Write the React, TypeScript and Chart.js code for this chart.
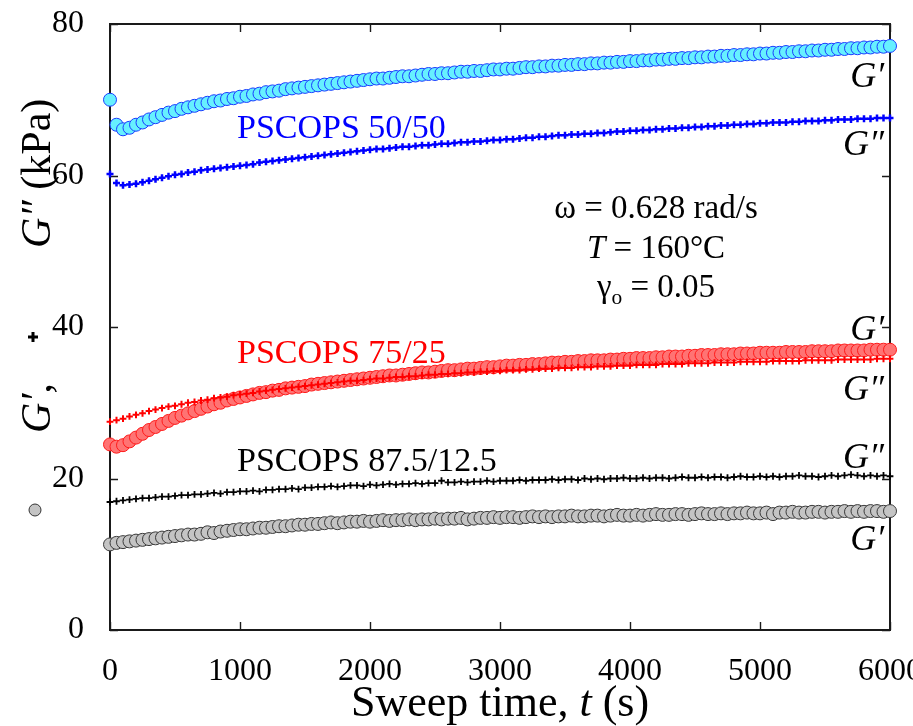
import React, { useEffect, useRef } from 'react';
import { Chart, registerables } from 'chart.js';

Chart.register(...registerables);

// Sweep time (s)
const TIME_S = [
  0, 50, 100, 150, 200, 250, 300, 350, 400, 450,
  500, 550, 600, 650, 700, 750, 800, 850, 900, 950,
  1000, 1050, 1100, 1150, 1200, 1250, 1300, 1350, 1400, 1450,
  1500, 1550, 1600, 1650, 1700, 1750, 1800, 1850, 1900, 1950,
  2000, 2050, 2100, 2150, 2200, 2250, 2300, 2350, 2400, 2450,
  2500, 2550, 2600, 2650, 2700, 2750, 2800, 2850, 2900, 2950,
  3000, 3050, 3100, 3150, 3200, 3250, 3300, 3350, 3400, 3450,
  3500, 3550, 3600, 3650, 3700, 3750, 3800, 3850, 3900, 3950,
  4000, 4050, 4100, 4150, 4200, 4250, 4300, 4350, 4400, 4450,
  4500, 4550, 4600, 4650, 4700, 4750, 4800, 4850, 4900, 4950,
  5000, 5050, 5100, 5150, 5200, 5250, 5300, 5350, 5400, 5450,
  5500, 5550, 5600, 5650, 5700, 5750, 5800, 5850, 5900, 5950,
  6000,
];

// PSCOPS 50/50  G' (kPa)
const PS5050_GP = [
  70.0, 66.7, 66.1, 66.3, 66.7, 67.0, 67.4, 67.7, 68.0, 68.3,
  68.5, 68.8, 69.0, 69.2, 69.4, 69.6, 69.8, 69.9, 70.1, 70.2,
  70.4, 70.5, 70.7, 70.8, 71.0, 71.1, 71.2, 71.4, 71.5, 71.6,
  71.7, 71.8, 71.9, 72.0, 72.1, 72.2, 72.3, 72.4, 72.5, 72.6,
  72.7, 72.8, 72.8, 72.9, 73.0, 73.1, 73.1, 73.2, 73.3, 73.4,
  73.4, 73.5, 73.5, 73.6, 73.7, 73.7, 73.8, 73.8, 73.9, 74.0,
  74.0, 74.1, 74.1, 74.2, 74.3, 74.3, 74.4, 74.4, 74.5, 74.5,
  74.6, 74.6, 74.7, 74.7, 74.8, 74.8, 74.9, 74.9, 75.0, 75.0,
  75.1, 75.1, 75.2, 75.2, 75.3, 75.3, 75.4, 75.4, 75.5, 75.5,
  75.6, 75.6, 75.7, 75.7, 75.8, 75.8, 75.9, 75.9, 76.0, 76.0,
  76.1, 76.1, 76.2, 76.2, 76.3, 76.3, 76.4, 76.4, 76.5, 76.5,
  76.6, 76.6, 76.7, 76.7, 76.8, 76.8, 76.9, 76.9, 77.0, 77.0,
  77.1,
];

// PSCOPS 50/50  G'' (kPa)
const PS5050_GPP = [
  60.2, 59.0, 58.7, 58.8, 58.9, 59.1, 59.3, 59.5, 59.7, 59.9,
  60.1, 60.2, 60.4, 60.5, 60.7, 60.8, 60.9, 61.0, 61.1, 61.2,
  61.3, 61.4, 61.5, 61.7, 61.8, 61.9, 62.0, 62.1, 62.2, 62.3,
  62.4, 62.5, 62.6, 62.7, 62.8, 62.9, 63.0, 63.1, 63.2, 63.3,
  63.4, 63.5, 63.5, 63.6, 63.7, 63.8, 63.8, 63.9, 64.0, 64.0,
  64.1, 64.2, 64.2, 64.3, 64.4, 64.4, 64.5, 64.5, 64.6, 64.7,
  64.7, 64.8, 64.8, 64.9, 65.0, 65.0, 65.1, 65.1, 65.2, 65.3,
  65.3, 65.4, 65.4, 65.5, 65.5, 65.6, 65.6, 65.7, 65.8, 65.8,
  65.9, 65.9, 66.0, 66.0, 66.1, 66.1, 66.2, 66.2, 66.3, 66.3,
  66.4, 66.4, 66.5, 66.5, 66.6, 66.6, 66.7, 66.7, 66.8, 66.8,
  66.9, 66.9, 67.0, 67.0, 67.0, 67.1, 67.1, 67.2, 67.2, 67.2,
  67.3, 67.3, 67.4, 67.4, 67.4, 67.5, 67.5, 67.5, 67.6, 67.6,
  67.6,
];

// PSCOPS 75/25  G' (kPa)
const PS7525_GP = [
  24.5, 24.2, 24.4, 24.9, 25.4, 25.9, 26.4, 26.8, 27.2, 27.6,
  28.0, 28.3, 28.6, 28.9, 29.2, 29.5, 29.8, 30.0, 30.3, 30.5,
  30.7, 30.9, 31.1, 31.3, 31.4, 31.6, 31.7, 31.9, 32.0, 32.1,
  32.2, 32.4, 32.5, 32.6, 32.7, 32.8, 32.9, 33.0, 33.1, 33.2,
  33.3, 33.4, 33.5, 33.6, 33.6, 33.7, 33.8, 33.9, 34.0, 34.0,
  34.1, 34.2, 34.3, 34.3, 34.4, 34.5, 34.5, 34.6, 34.7, 34.7,
  34.8, 34.9, 34.9, 35.0, 35.0, 35.1, 35.1, 35.2, 35.3, 35.3,
  35.4, 35.4, 35.5, 35.5, 35.6, 35.6, 35.6, 35.7, 35.7, 35.8,
  35.8, 35.9, 35.9, 35.9, 36.0, 36.0, 36.1, 36.1, 36.1, 36.2,
  36.2, 36.3, 36.3, 36.3, 36.4, 36.4, 36.4, 36.5, 36.5, 36.5,
  36.6, 36.6, 36.6, 36.6, 36.7, 36.7, 36.7, 36.7, 36.8, 36.8,
  36.8, 36.8, 36.9, 36.9, 36.9, 36.9, 36.9, 37.0, 37.0, 37.0,
  37.0,
];

// PSCOPS 75/25  G'' (kPa)
const PS7525_GPP = [
  27.5, 27.7, 27.9, 28.2, 28.4, 28.6, 28.9, 29.1, 29.3, 29.5,
  29.6, 29.8, 30.0, 30.1, 30.3, 30.4, 30.6, 30.7, 30.8, 31.0,
  31.1, 31.2, 31.3, 31.5, 31.6, 31.7, 31.8, 31.9, 32.0, 32.1,
  32.2, 32.3, 32.4, 32.5, 32.6, 32.7, 32.8, 32.9, 32.9, 33.0,
  33.1, 33.2, 33.2, 33.3, 33.4, 33.4, 33.5, 33.5, 33.6, 33.7,
  33.7, 33.8, 33.8, 33.9, 33.9, 34.0, 34.0, 34.1, 34.1, 34.2,
  34.2, 34.3, 34.3, 34.3, 34.4, 34.4, 34.5, 34.5, 34.5, 34.6,
  34.6, 34.6, 34.7, 34.7, 34.7, 34.8, 34.8, 34.8, 34.9, 34.9,
  34.9, 35.0, 35.0, 35.0, 35.0, 35.1, 35.1, 35.1, 35.1, 35.2,
  35.2, 35.2, 35.2, 35.3, 35.3, 35.3, 35.3, 35.4, 35.4, 35.4,
  35.4, 35.4, 35.5, 35.5, 35.5, 35.5, 35.5, 35.6, 35.6, 35.6,
  35.6, 35.6, 35.7, 35.7, 35.7, 35.7, 35.7, 35.7, 35.8, 35.8,
  35.8,
];

// PSCOPS 87.5/12.5  G'' (kPa)
const PS875_GPP = [
  16.9, 17.0, 17.1, 17.2, 17.3, 17.4, 17.4, 17.5, 17.6, 17.6,
  17.7, 17.8, 17.8, 17.9, 17.9, 18.0, 18.1, 18.0, 18.2, 18.2,
  18.3, 18.3, 18.4, 18.3, 18.5, 18.5, 18.6, 18.6, 18.7, 18.6,
  18.8, 18.8, 18.9, 18.9, 19.0, 18.9, 19.0, 19.1, 19.1, 19.0,
  19.2, 19.1, 19.2, 19.3, 19.2, 19.3, 19.3, 19.4, 19.3, 19.4,
  19.4, 19.7, 19.5, 19.5, 19.6, 19.5, 19.6, 19.6, 19.7, 19.6,
  19.7, 19.7, 19.7, 19.8, 19.7, 19.8, 19.8, 19.8, 19.9, 19.8,
  19.9, 19.9, 19.8, 20.0, 19.9, 20.0, 19.9, 20.0, 20.0, 20.1,
  20.0, 20.0, 20.1, 20.0, 20.1, 20.1, 20.0, 20.1, 20.2, 20.1,
  20.1, 20.2, 20.1, 20.2, 20.2, 20.1, 20.2, 20.3, 20.2, 20.2,
  20.3, 20.2, 20.3, 20.2, 20.3, 20.3, 20.4, 20.3, 20.3, 20.2,
  20.3, 20.4, 20.3, 20.4, 20.5, 20.4, 20.3, 20.4, 20.3, 20.4,
  20.3,
];

// PSCOPS 87.5/12.5  G' (kPa)
const PS875_GP = [
  11.3, 11.5, 11.6, 11.7, 11.8, 11.9, 12.0, 12.1, 12.2, 12.3,
  12.4, 12.5, 12.6, 12.6, 12.7, 12.9, 12.8, 13.0, 13.1, 13.2,
  13.3, 13.3, 13.4, 13.5, 13.5, 13.6, 13.7, 13.7, 13.8, 13.9,
  13.9, 14.0, 14.0, 14.1, 14.2, 14.1, 14.2, 14.3, 14.3, 14.4,
  14.3, 14.4, 14.5, 14.4, 14.5, 14.5, 14.6, 14.5, 14.6, 14.6,
  14.7, 14.6, 14.7, 14.7, 14.8, 14.6, 14.7, 14.8, 14.8, 14.9,
  14.8, 14.9, 14.9, 14.8, 14.9, 15.0, 14.9, 15.0, 14.9, 15.0,
  15.0, 15.1, 15.0, 15.0, 15.1, 15.1, 15.0, 15.1, 15.2, 15.1,
  15.1, 15.2, 15.1, 15.2, 15.3, 15.2, 15.2, 15.3, 15.3, 15.2,
  15.3, 15.4, 15.3, 15.3, 15.4, 15.3, 15.4, 15.4, 15.5, 15.4,
  15.4, 15.5, 15.3, 15.5, 15.5, 15.6, 15.5, 15.5, 15.6, 15.6,
  15.5, 15.6, 15.6, 15.7, 15.6, 15.7, 15.6, 15.7, 15.7, 15.6,
  15.7,
];

const X_TICKS = [0, 1000, 2000, 3000, 4000, 5000, 6000];
const Y_TICKS = [0, 20, 40, 60, 80];

const SERIF = '"Liberation Serif", "Times New Roman", "DejaVu Serif", serif';

type Run = { t: string; italic?: boolean; sub?: boolean };

function runsWidth(ctx: CanvasRenderingContext2D, runs: Run[], size: number) {
  let w = 0;
  for (const r of runs) {
    const s = r.sub ? size * 0.65 : size;
    ctx.font = `${r.italic ? 'italic ' : ''}${s}px ${SERIF}`;
    w += ctx.measureText(r.t).width;
  }
  return w;
}

function drawRuns(
  ctx: CanvasRenderingContext2D,
  runs: Run[],
  x: number,
  y: number,
  size: number,
  align: 'left' | 'center' | 'right' = 'left'
) {
  const total = runsWidth(ctx, runs, size);
  let cx = align === 'left' ? x : align === 'center' ? x - total / 2 : x - total;
  ctx.textAlign = 'left';
  ctx.textBaseline = 'alphabetic';
  for (const r of runs) {
    const s = r.sub ? size * 0.65 : size;
    ctx.font = `${r.italic ? 'italic ' : ''}${s}px ${SERIF}`;
    ctx.fillText(r.t, cx, r.sub ? y + size * 0.22 : y);
    cx += ctx.measureText(r.t).width;
  }
}

const decorPlugin = {
  id: 'decor',
  beforeDatasetsDraw(chart: any) {
    const { ctx, chartArea, scales } = chart;
    const { left, right, top, bottom } = chartArea;
    const x = scales.x;
    const y = scales.y;
    ctx.save();
    ctx.strokeStyle = '#1a1a1a';
    ctx.lineWidth = 2;
    ctx.strokeRect(left, top, right - left, bottom - top);
    ctx.lineWidth = 1.4;
    ctx.beginPath();
    const tl = 8;
    for (const v of X_TICKS) {
      const px = Math.round(x.getPixelForValue(v)) + 0.5;
      ctx.moveTo(px, bottom);
      ctx.lineTo(px, bottom - tl);
      ctx.moveTo(px, top);
      ctx.lineTo(px, top + tl);
    }
    for (const v of Y_TICKS) {
      const py = Math.round(y.getPixelForValue(v)) + 0.5;
      ctx.moveTo(left, py);
      ctx.lineTo(left + tl, py);
      ctx.moveTo(right, py);
      ctx.lineTo(right - tl, py);
    }
    ctx.stroke();
    ctx.restore();
  },
  afterDatasetsDraw(chart: any) {
    const { ctx } = chart;
    ctx.save();

    // series labels
    ctx.fillStyle = '#0000ff';
    drawRuns(ctx, [{ t: 'PSCOPS 50/50' }], 237, 138, 34);
    ctx.fillStyle = '#ff0000';
    drawRuns(ctx, [{ t: 'PSCOPS 75/25' }], 237, 363, 34);
    ctx.fillStyle = '#000000';
    drawRuns(ctx, [{ t: 'PSCOPS 87.5/12.5' }], 237, 471, 34);

    // test conditions
    drawRuns(ctx, [{ t: 'ω = 0.628 rad/s' }], 656, 218, 33, 'center');
    drawRuns(ctx, [{ t: 'T', italic: true }, { t: ' = 160°C' }], 656, 258, 33, 'center');
    drawRuns(ctx, [{ t: 'γ' }, { t: 'o', sub: true }, { t: ' = 0.05' }], 656, 297, 33, 'center');

    // right-hand curve labels
    const rx = 884;
    const lab = (txt: string, by: number) =>
      drawRuns(ctx, [{ t: txt, italic: true }], rx, by, 36, 'right');
    lab('G′', 87);
    lab('G″', 155);
    lab('G′', 340);
    lab('G″', 400);
    lab('G″', 468);
    lab('G′', 550);

    // x-axis title
    drawRuns(ctx, [{ t: 'Sweep time, ' }, { t: 't', italic: true }, { t: ' (s)' }], 500, 716, 44, 'center');

    // y-axis title (rotated, composed of symbol + text pieces)
    const rot = (bx: number, by: number, runs: Run[]) => {
      ctx.save();
      ctx.translate(bx, by);
      ctx.rotate(-Math.PI / 2);
      drawRuns(ctx, runs, 0, 0, 42, 'left');
      ctx.restore();
    };
    rot(50, 248, [{ t: 'G″', italic: true }, { t: ' (kPa)' }]);
    rot(50, 433, [{ t: 'G′', italic: true }, { t: ',' }]);
    // "+" symbol
    ctx.strokeStyle = '#000';
    ctx.lineWidth = 3;
    ctx.beginPath();
    ctx.moveTo(28, 337);
    ctx.lineTo(38, 337);
    ctx.moveTo(33, 332);
    ctx.lineTo(33, 342);
    ctx.stroke();
    // circle symbol
    ctx.beginPath();
    ctx.arc(35, 510, 6, 0, Math.PI * 2);
    ctx.fillStyle = '#c4c4c4';
    ctx.fill();
    ctx.lineWidth = 1;
    ctx.strokeStyle = '#333';
    ctx.stroke();

    ctx.restore();
  },
};

function pts(vals: number[]) {
  return TIME_S.map((t, i) => ({ x: t, y: vals[i] }));
}

export default function App() {
  const ref = useRef<HTMLCanvasElement | null>(null);

  useEffect(() => {
    if (!ref.current) return;
    const circle = (vals: number[], fill: string, stroke: string) => ({
      data: pts(vals),
      showLine: false,
      pointStyle: 'circle',
      pointRadius: 6.5,
      pointBackgroundColor: fill,
      pointBorderColor: stroke,
      pointBorderWidth: 1,
      clip: false,
    });
    const cross = (vals: number[], color: string, r: number, w: number) => ({
      data: pts(vals),
      showLine: false,
      pointStyle: 'cross',
      pointRadius: r,
      pointBorderColor: color,
      pointBackgroundColor: color,
      pointBorderWidth: w,
      clip: false,
    });

    const chart = new Chart(ref.current, {
      type: 'scatter',
      data: {
        datasets: [
          { label: "50/50 G''", ...cross(PS5050_GPP, '#0000ff', 3.5, 2.5) },
          { label: "50/50 G'", ...circle(PS5050_GP, '#66f0ff', '#1a3cff') },
          { label: "75/25 G''", ...cross(PS7525_GPP, '#ff0000', 3.4, 2) },
          { label: "75/25 G'", ...circle(PS7525_GP, '#ff7373', '#ff1a1a') },
          { label: "87.5/12.5 G''", ...cross(PS875_GPP, '#000000', 3.4, 1.8) },
          { label: "87.5/12.5 G'", ...circle(PS875_GP, '#c4c4c4', '#3a3a3a') },
        ] as any,
      },
      options: {
        animation: false,
        responsive: false,
        events: [],
        layout: { padding: { top: 24, right: 23, left: 0, bottom: 0 } },
        plugins: {
          legend: { display: false },
          tooltip: { enabled: false },
        },
        scales: {
          x: {
            type: 'linear',
            min: 0,
            max: 6000,
            grid: { display: false },
            border: { display: false },
            ticks: {
              stepSize: 1000,
              color: '#000',
              padding: 14,
              maxRotation: 0,
              font: { family: SERIF, size: 32 },
              callback: (v: any) => String(v),
            },
            afterFit: (s: any) => {
              s.height = 96;
              s.paddingLeft = 0;
              s.paddingRight = 0;
            },
          },
          y: {
            type: 'linear',
            min: 0,
            max: 80,
            grid: { display: false },
            border: { display: false },
            ticks: {
              stepSize: 20,
              color: '#000',
              padding: 18,
              font: { family: SERIF, size: 32 },
              callback: (v: any) => String(v),
            },
            afterFit: (s: any) => {
              s.width = 110;
              s.paddingTop = 0;
              s.paddingBottom = 0;
            },
          },
        },
      } as any,
      plugins: [decorPlugin],
    });
    return () => chart.destroy();
  }, []);

  return (
    <div style={{ position: 'absolute', left: 0, top: 0, width: 913, height: 726, background: '#fff' }}>
      <canvas ref={ref} width={913} height={726} />
    </div>
  );
}
